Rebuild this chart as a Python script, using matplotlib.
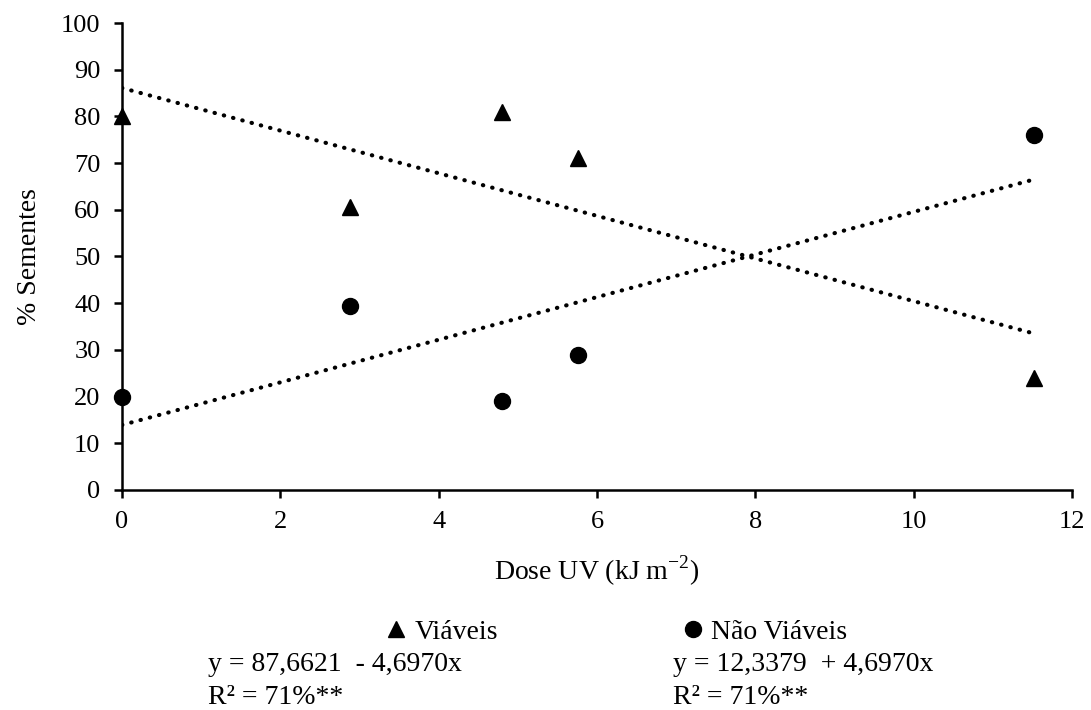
import matplotlib.pyplot as plt
import numpy as np

plt.rcParams['font.family'] = ['Liberation Serif', 'DejaVu Serif']
plt.rcParams['mathtext.fontset'] = 'custom'
plt.rcParams['mathtext.rm'] = 'Liberation Serif'

# doses UV (kJ m-2)
dose = [0, 2.88, 4.8, 5.76, 11.52]
viaveis = [80, 60.5, 81, 71, 24]
nao_viaveis = [20, 39.5, 19, 29, 76]

eq_viaveis = "y = 87,6621  - 4,6970x"
eq_nao_viaveis = "y = 12,3379  + 4,6970x"
r2_text = "R² = 71%**"

fig = plt.figure(figsize=(10.91, 7.10), dpi=100)
ax = fig.add_axes([0.1118, 0.3099, 0.8708, 0.6577])

x = np.array(dose)
h1, = ax.plot(x, viaveis, linestyle='none', marker='^', color='black', markersize=11,
              label='Viáveis', clip_on=False, zorder=3)
h2, = ax.plot(x, nao_viaveis, linestyle='none', marker='o', color='black', markersize=11.5,
              label='Não Viáveis', clip_on=False, zorder=3)

# linear trend lines (dotted)
xl = np.array([x.min(), x.max()])
for ys in (viaveis, nao_viaveis):
    b, a = np.polyfit(x, ys, 1)
    ax.plot(xl, a + b * xl, linestyle=(0, (0.1, 2.2)), color='black', linewidth=3,
            dash_capstyle='round')

ax.set_xlim(0, 12)
ax.set_ylim(0, 100)
ax.set_xticks(range(0, 13, 2))
ax.set_yticks(range(0, 101, 10))
for s in ('top', 'right'):
    ax.spines[s].set_visible(False)
for s in ('left', 'bottom'):
    ax.spines[s].set_linewidth(1.8)
ax.tick_params(width=1.8, length=5.5, labelsize=19, pad=10)

ax.set_ylabel('% Sementes', fontsize=20)
ax.yaxis.set_label_coords(-0.084, 0.5)
ax.set_xlabel(r'Dose UV (kJ m$^{-2}$)', fontsize=20)
ax.xaxis.set_label_coords(0.5, -0.137)

# legend entries, one per series
lg1 = fig.legend(handles=[h1], loc='center left', bbox_to_anchor=(0.353, 0.110),
                 frameon=False, fontsize=20, handlelength=0.8, handletextpad=0.25,
                 borderpad=0, borderaxespad=0)
lg2 = fig.legend(handles=[h2], loc='center left', bbox_to_anchor=(0.625, 0.110),
                 frameon=False, fontsize=20, handlelength=0.8, handletextpad=0.25,
                 borderpad=0, borderaxespad=0)

fig.text(0.1906, 0.055, eq_viaveis, fontsize=20, va='baseline')
fig.text(0.1906, 0.0085, r2_text, fontsize=20, va='baseline')
fig.text(0.617, 0.055, eq_nao_viaveis, fontsize=20, va='baseline')
fig.text(0.617, 0.0085, r2_text, fontsize=20, va='baseline')

fig.savefig('out.png', dpi=100)
